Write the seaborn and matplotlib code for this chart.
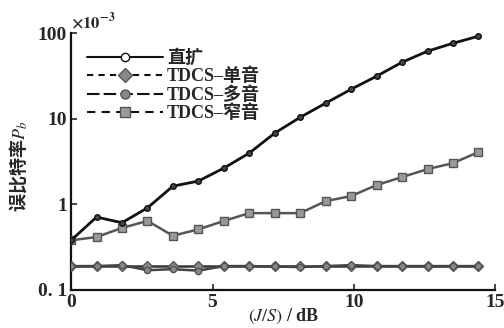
import numpy as np
import pandas as pd
import matplotlib
matplotlib.use("Agg")
import matplotlib.pyplot as plt
from matplotlib.lines import Line2D
import seaborn as sns

# ---- data (values in units of 1e-3) ----
js_db = [0.0, 0.9, 1.8, 2.7, 3.6, 4.5, 5.4, 6.3, 7.2, 8.1, 9.0, 9.9, 10.8, 11.7, 12.6, 13.5, 14.4]
dsss = [0.38, 0.71, 0.61, 0.91, 1.63, 1.87, 2.65, 3.97, 6.8, 10.4, 15.2, 22.1, 31.4, 45.7, 61.5, 76.2, 92.0]
tdcs_single = [0.19, 0.19, 0.19, 0.19, 0.19, 0.19, 0.19, 0.19, 0.19, 0.19, 0.19, 0.19, 0.19, 0.19, 0.19, 0.19, 0.19]
tdcs_multi = [0.19, 0.19, 0.195, 0.17, 0.175, 0.168, 0.19, 0.19, 0.188, 0.185, 0.19, 0.195, 0.19, 0.19, 0.19, 0.19, 0.19]
tdcs_narrow = [0.38, 0.415, 0.53, 0.64, 0.43, 0.51, 0.64, 0.79, 0.79, 0.79, 1.09, 1.25, 1.68, 2.08, 2.58, 3.03, 4.08]
series_names = ["直扩", "TDCS–单音", "TDCS–多音", "TDCS–窄音"]
x_ticks = [0, 5, 10, 15]
y_ticks = [0.1, 1, 10, 100]
y_ticklabels = ["0. 1", "1", "10", "100"]

df = pd.DataFrame({
    "x": js_db * 4,
    "y": dsss + tdcs_single + tdcs_multi + tdcs_narrow,
    "s": sum([[n] * len(js_db) for n in series_names], []),
})

sns.set_style("ticks")
plt.rcParams["font.family"] = ["Liberation Serif", "Noto Sans CJK SC"]
plt.rcParams["mathtext.fontset"] = "stix"

fig = plt.figure(figsize=(5.04, 3.28), dpi=100)
ax = fig.add_axes([0.141, 0.116, 0.842, 0.783])

styles = {
    "直扩": dict(color="#111111", marker="o", mfc="#444444", mec="#111111", ms=4, ls="-", lw=2.0, legmfc="white", legls="-"),
    "TDCS–单音": dict(color="#333333", marker="D", mfc="#888888", mec="#555555", ms=5, ls="-", lw=1.8, legmfc="#888888", legls=(0, (3, 2.5))),
    "TDCS–多音": dict(color="#444444", marker="o", mfc="#888888", mec="#555555", ms=4.5, ls="-", lw=1.8, legmfc="#888888", legls=(0, (6, 2))),
    "TDCS–窄音": dict(color="#555555", marker="s", mfc="#999999", mec="#555555", ms=5.5, ls="-", lw=1.8, legmfc="#999999", legls=(0, (4, 3))),
}

draw_order = ["TDCS–单音", "TDCS–多音", "TDCS–窄音", "直扩"]
for name in draw_order:
    st = styles[name]
    sub = df[df["s"] == name]
    sns.lineplot(data=sub, x="x", y="y", ax=ax, color=st["color"], lw=st["lw"],
                 ls=st["ls"], marker=st["marker"], markersize=st["ms"],
                 markerfacecolor=st["mfc"], markeredgecolor=st["mec"],
                 markeredgewidth=1.0, legend=False, zorder=3)

ax.set_yscale("log")
ax.set_ylim(0.1, 100)
ax.set_xlim(0, 15)
ax.set_xticks(x_ticks)
ax.set_xticklabels([str(t) for t in x_ticks], fontsize=14, fontweight="bold")
ax.set_yticks(y_ticks)
ax.set_yticklabels(y_ticklabels, fontsize=14, fontweight="bold")
ax.yaxis.set_minor_locator(matplotlib.ticker.NullLocator())
ax.tick_params(direction="in", length=4, width=1.2, pad=3)
for sp in ["top", "right"]:
    ax.spines[sp].set_visible(False)
for sp in ["left", "bottom"]:
    ax.spines[sp].set_linewidth(1.6)
    ax.spines[sp].set_color("#111111")

ax.set_xlabel(r"$(J/S)$ / dB", fontsize=13, fontweight="bold")
ax.xaxis.set_label_coords(0.5, -0.065)
ax.set_ylabel(r"误比特率$P_b$", fontsize=13, fontweight="bold",
              family=["Noto Sans CJK SC", "DejaVu Sans"])
ax.yaxis.set_label_coords(-0.1, 0.48)
ax.text(0.0, 1.005, r"$\mathbf{\times10^{-3}}$", transform=ax.transAxes, fontsize=12,
        ha="left", va="bottom")

handles = []
for name in series_names:
    st = styles[name]
    handles.append(Line2D([], [], color="#111111", lw=1.5, ls=st["legls"], marker=st["marker"],
                          markersize=st["ms"] + 2, markerfacecolor=st["legmfc"], markeredgecolor=st["mec"]))
leg = ax.legend(handles, series_names, loc="upper left", bbox_to_anchor=(0.0, 1.0),
                frameon=False, handlelength=4.2, handletextpad=0.2, labelspacing=0.05,
                prop={"family": ["Liberation Serif", "Noto Sans CJK SC"], "size": 13, "weight": "bold"})

fig.savefig("out.png", dpi=100)
